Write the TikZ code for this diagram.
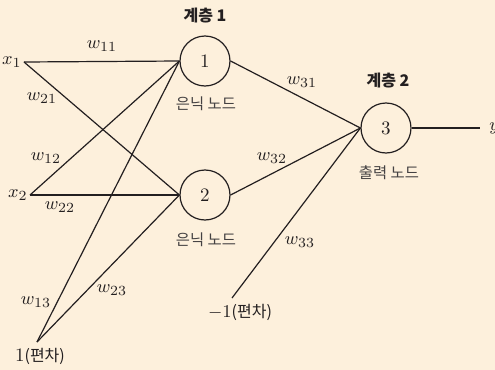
\documentclass[tikz,border=0pt]{standalone}
\usepackage{fontspec}
\newfontfamily\kr{Noto Sans CJK KR}
\usetikzlibrary{positioning}
\definecolor{cream}{HTML}{FDF0DC}
\definecolor{ink}{HTML}{231F20}

\begin{document}
\begin{tikzpicture}[x=0.5pt,y=-0.5pt,every node/.style={font=\fontsize{9.5}{11}\selectfont,text=ink},
neuron/.style={circle,draw=ink,line width=0.6pt,minimum size=25pt,inner sep=0pt},
tag/.style={font=\kr\fontsize{7.7}{9}\selectfont,text=ink!85},
layer/.style={font=\kr\bfseries\fontsize{8}{10}\selectfont},
wire/.style={draw=ink,line width=0.6pt}]
\fill[cream] (0,0) rectangle (495,370);
\useasboundingbox (0,0) rectangle (495,370);
\node[neuron] (h1) at (205,61) {1};
\node[neuron] (h2) at (205,195) {2};
\node[neuron] (o3) at (386,128) {3};
\node[layer] (l1) at (205,16) {계층 1};
\node[layer] (l2) at (388,81) {계층 2};
\node[tag] (t1) at (206,104) {은닉 노드};
\node[tag] (t2) at (206,240) {은닉 노드};
\node[tag] (t3) at (389,173) {출력 노드};
\node[anchor=east,inner sep=1pt] (x1) at (24,62) {$x_1$};
\node[anchor=east,inner sep=1pt] (x2) at (30,195) {$x_2$};
\coordinate (b1) at (37,342);
\node (b1t) at (40,356) {1{\kr\fontsize{8}{9}\selectfont(편차)}};
\coordinate (b2) at (232,298);
\node (b2t) at (240,312) {$-1${\kr\fontsize{8}{9}\selectfont(편차)}};
\node[anchor=west,inner sep=1pt] (y) at (487,128) {$y$};
\coordinate (yend) at (480,128);
\draw[wire] (x1.east)--(h1.west);\draw[wire] (x1.east)--(h2.west);
\draw[wire] (x2.east)--(h1.west);\draw[wire] (x2.east)--(h2.west);
\draw[wire] (b1)--(h1.west);\draw[wire] (b1)--(h2.west);
\draw[wire] (h1.east)--(o3.west);\draw[wire] (h2.east)--(o3.west);\draw[wire] (b2)--(o3.west);
\draw[wire] (o3.east)--(yend);
\node (w11) at (102,46) {$w_{11}$};
\node (w21) at (42,98) {$w_{21}$};
\node (w12) at (46,158) {$w_{12}$};
\node (w22) at (60,207) {$w_{22}$};
\node (w13) at (36,302) {$w_{13}$};
\node (w23) at (112,290) {$w_{23}$};
\node (w31) at (302,82) {$w_{31}$};
\node (w32) at (272,158) {$w_{32}$};
\node (w33) at (300,242) {$w_{33}$};
\end{tikzpicture}
\end{document}
